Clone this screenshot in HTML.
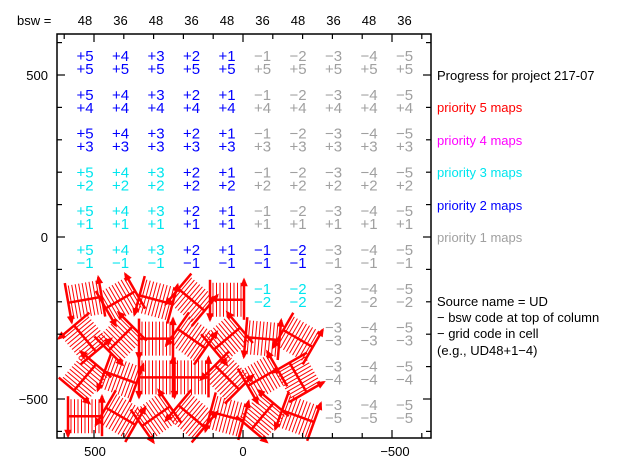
<!DOCTYPE html>
<html><head><meta charset="utf-8"><style>
html,body{margin:0;padding:0;background:#fff;}
svg{display:block;font-family:"Liberation Sans",sans-serif;}
</style></head><body>
<svg id="s" width="639" height="470" viewBox="0 0 639 470" xmlns="http://www.w3.org/2000/svg">
<rect width="639" height="470" fill="#fff"/>
<g id="glyphs"></g>
<g id="txt" font-size="15" text-anchor="middle"></g>
<rect x="57" y="34" width="374" height="404" fill="none" stroke="#000" stroke-width="1.5"/>
<g id="ticks" stroke="#000" stroke-width="1.2"></g>
<g font-size="13" fill="#000">
<text x="17" y="25">bsw =</text>
<text x="48" y="80" text-anchor="end">500</text>
<text x="48" y="242" text-anchor="end">0</text>
<text x="48" y="404" text-anchor="end">−500</text>
<text x="95" y="456" text-anchor="middle">500</text>
<text x="243" y="456" text-anchor="middle">0</text>
<text x="395" y="456" text-anchor="middle">−500</text>
</g>
<g font-size="13">
<text x="437" y="80" fill="#000">Progress for project 217-07</text>
<text x="437" y="112" fill="#ff0000">priority 5 maps</text>
<text x="437" y="145" fill="#ff00ff">priority 4 maps</text>
<text x="437" y="177" fill="#00e5ee">priority 3 maps</text>
<text x="437" y="210" fill="#0000ff">priority 2 maps</text>
<text x="437" y="242" fill="#a0a0a0">priority 1 maps</text>
<text x="437" y="306" fill="#000">Source name = UD</text>
<text x="437" y="322" fill="#000"> − bsw code at top of column</text>
<text x="437" y="338" fill="#000"> − grid code in cell</text>
<text x="437" y="355" fill="#000">(e.g., UD48+1−4)</text>
</g>
</svg>
<script>
var NS="http://www.w3.org/2000/svg";
function el(p,n,a,t){var e=document.createElementNS(NS,n);for(var k in a)e.setAttribute(k,a[k]);if(t!==undefined)e.textContent=t;p.appendChild(e);return e;}
var T=document.getElementById('txt'),G=document.getElementById('glyphs'),K=document.getElementById('ticks'),S=document.getElementById('s');
var B='#0000ff',C='#00e5ee',Gr='#a0a0a0',R='#ff0000';
var tops=['+5','+4','+3','+2','+1','−1','−2','−3','−4','−5'];
var bots=['+5','+4','+3','+2','+1','−1','−2','−3','−4','−5'];
var bsw=['48','36','48','36','48','36','48','36','48','36'];
for(var c=0;c<10;c++){var x=85+35.5*c;el(S,'text',{x:x,y:25,'font-size':13,'text-anchor':'middle'},bsw[c]);}
function col(r,c){
 if(r<=2) return c<5?B:Gr;
 if(r<=4) return c<3?C:(c<5?B:Gr);
 if(r==5) return c<3?C:(c<7?B:Gr);
 if(r==6) return c<5?R:(c<7?C:Gr);
 return c<7?R:Gr;
}
var ang=[[-10,-30,15,40,0],[50,-45,0,35,-40,5,30],[-50,20,0,0,45,-30,60],[0,30,-35,40,15,-50,20]];
for(var r=0;r<10;r++){var yt=61+38.8*r;
 for(var c=0;c<10;c++){var x=85+35.5*c,cl=col(r,c);
  if(cl==R){var gi=r-6,a=ang[gi][c];
   var g=el(G,'g',{transform:'translate('+x+','+(yt+6)+') rotate('+a+')',stroke:R});
   for(var i=0;i<9;i++){var lx=-14+i*3.5;el(g,'line',{x1:lx,y1:-17,x2:lx,y2:17,'stroke-width':1});}
   el(g,'line',{x1:-16,y1:0,x2:16,y2:0,'stroke-width':2.5});
   el(g,'line',{x1:-17,y1:-20,x2:-17,y2:20,'stroke-width':2.5});
   el(g,'line',{x1:17,y1:-20,x2:17,y2:20,'stroke-width':2.5});
   el(g,'path',{d:'M-20,14 L-17,21 L-14,14 Z M14,-14 L17,-21 L20,-14 Z',fill:R,'stroke-width':1});
  } else {
   el(T,'text',{x:x,y:yt,fill:cl},tops[c]);
   el(T,'text',{x:x,y:yt+13,fill:cl},bots[r]);
  }
 }
}
for(var k=-6;k<=6;k++){var x=243-29.8*k;if(x<58||x>430)continue;var L=(k%5==0)?8:5;
 el(K,'line',{x1:x,y1:438,x2:x,y2:438-L});el(K,'line',{x1:x,y1:34,x2:x,y2:34+L});}
for(var k=-6;k<=6;k++){var y=237-32.4*k;if(y<35||y>437)continue;var L=(k%5==0)?8:5;
 el(K,'line',{x1:57,y1:y,x2:57+L,y2:y});el(K,'line',{x1:431,y1:y,x2:431-L,y2:y});}
</script>
</body></html>
